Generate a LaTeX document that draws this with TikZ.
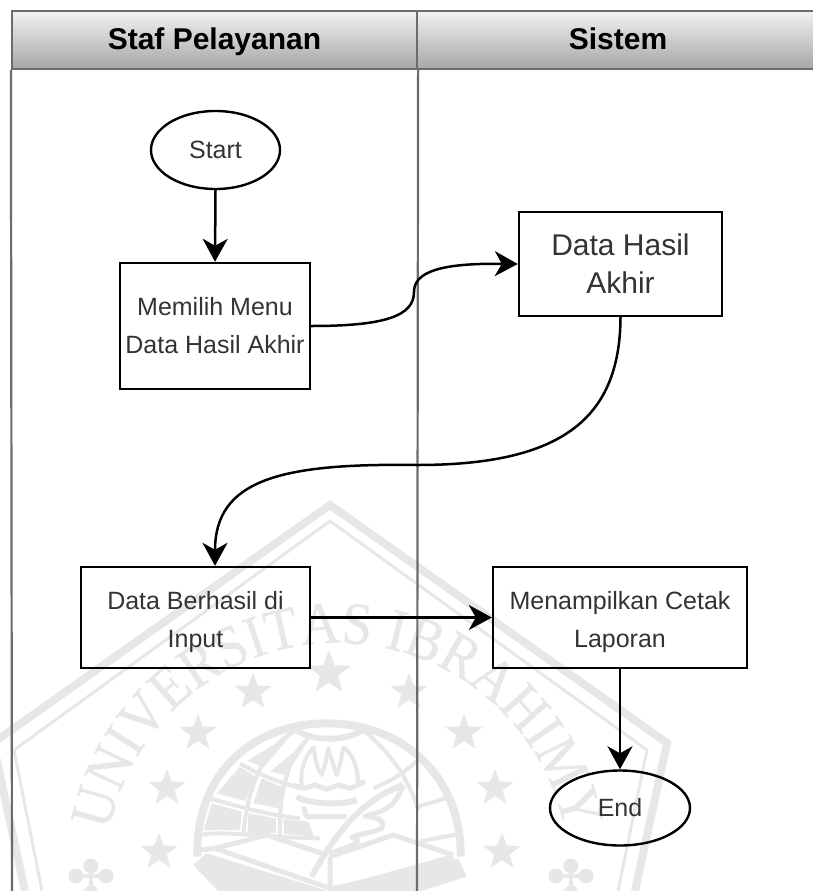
\documentclass[tikz,border=0pt]{standalone}
\usepackage{fontspec}
\setmainfont{Liberation Sans}
\newfontfamily\wmserif[FakeStretch=0.9,FakeBold=0.6]{Liberation Serif}
\usetikzlibrary{arrows.meta,shapes.geometric,decorations.text}
\definecolor{wm}{HTML}{E7E7E7}
\definecolor{lane}{HTML}{6B6B6B}
\definecolor{txt}{HTML}{333333}
\tikzset{
  x=1pt,y=-1pt,
  lanehead/.style={draw=lane,line width=2.2pt,minimum height=58pt,inner sep=0pt,
    text height=24pt,text depth=4pt,
    top color=HeadTop,bottom color=HeadBot,font=\fontsize{30}{30}\selectfont\bfseries,text=black},
  procbox/.style={draw=black,line width=2.4pt,align=center,inner sep=0pt,text=txt,
    font=\fontsize{25}{38}\selectfont},
  term/.style={draw=black,line width=2.4pt,ellipse,inner sep=0pt,text=txt,
    font=\fontsize{25}{30}\selectfont},
  flow/.style={draw=black,line width=2.5pt,-{Stealth[length=23pt,width=25pt,inset=7pt]}},
  wmstar/.style={star,star points=5,star point ratio=2.4,fill=wm,inner sep=0pt},
  wmline/.style={draw=wm,line width=2.2pt,line join=round},
  wmfill/.style={fill=wm,draw=none},
}
\definecolor{HeadTop}{HTML}{F2F2F2}
\definecolor{HeadBot}{HTML}{A6A6A6}
\begin{document}
\begin{tikzpicture}
\useasboundingbox (0,0) rectangle (812,891);
% --- watermark
\begin{scope}
\clip (0,0) rectangle (812,891);
\draw[draw=wm,line width=8pt,line join=miter] (25,891) -- (-7,743) -- (330,505) -- (667,743) -- (635,891);
\draw[draw=wm,line width=3pt,line join=miter] (42,891) -- (14,750) -- (330,521) -- (647,750) -- (618,891);
\foreach \i/\px/\py/\sz in {1/329/673/46,2/253/692/39,3/409/692/39,4/198/733/39,5/464/733/39,
    6/167/788/39,7/495/788/39,8/159/852/39,9/502/852/39}{
  \node[wmstar,minimum size=\sz pt] (star\i) at (\px,\py) {};
}
\foreach \i/\px in {1/91,2/571}{
  \fill[wm] (\px,866) circle[radius=7.5];
  \fill[wm] (\px-15,876) circle[radius=7.5];
  \fill[wm] (\px+15,876) circle[radius=7.5];
  \fill[wm] (\px,893) circle[radius=7.5];
  \draw[wm,line width=4pt] (\px,866) -- (\px,891) (\px-15,876) -- (\px+15,876);
}
\path[decorate,decoration={text along path,text align=center,text color=wm,
    text={|\wmserif\fontsize{60}{60}\selectfont|UNIVERSITAS IBRAHIMY}}]
  (337,875) ++(-176:232) arc[start angle=-176,end angle=-4,radius=232];
% globe
\begin{scope}[shift={(190,710)},scale=1/3]
  \draw[wmline,line width=8pt] (22,440) .. controls (15,200) and (180,40) .. (410,40) .. controls (640,40) and (815,200) .. (812,440);
  \draw[wmline,line width=6pt] (318,60) .. controls (370,95) and (460,95) .. (520,60);
  \draw[wmline,line width=4pt] (150,160) .. controls (230,210) and (320,230) .. (330,235);
  \draw[wmline,line width=4pt] (60,265) .. controls (130,285) and (230,315) .. (330,325);
  \draw[wmline,line width=4pt] (30,375) .. controls (100,360) and (250,385) .. (390,385);
  \draw[wmline,line width=4pt] (550,235) .. controls (600,215) and (640,190) .. (685,150);
  \draw[wmline,line width=4pt] (680,290) .. controls (720,280) and (750,270) .. (775,262);
  \draw[wmline,line width=4pt] (690,395) .. controls (730,385) and (770,380) .. (805,372);
  \draw[wmline,line width=4pt] (318,62) .. controls (220,110) and (170,240) .. (160,375);
  \draw[wmline,line width=4pt] (355,85) .. controls (290,140) and (265,270) .. (270,375);
  \draw[wmline,line width=4pt] (520,60) .. controls (590,120) and (650,190) .. (685,300);
  \fill[wmfill] (172,152) -- (305,72) -- (222,172) -- cycle;
  \fill[wmfill] (240,185) -- (355,90) -- (305,170) -- (285,195) -- cycle;
  \fill[wmfill] (80,250) -- (150,170) -- (195,200) -- (165,272) -- cycle;
  \fill[wmfill] (190,280) -- (215,205) -- (285,235) -- (265,295) -- cycle;
  \fill[wmfill] (42,360) -- (65,280) -- (155,305) -- (150,360) -- cycle;
  \fill[wmfill] (172,375) -- (175,310) -- (258,325) -- (258,368) -- cycle;
  \fill[wmfill] (282,372) -- (280,328) -- (355,335) -- (372,380) -- cycle;
  % torch
  \draw[wmline,line width=4pt] (335,225) .. controls (330,170) and (350,130) .. (372,112) .. controls (375,160) and (385,180) .. (395,195) .. controls (405,170) and (410,140) .. (415,115) .. controls (425,150) and (435,180) .. (440,195) .. controls (450,170) and (455,140) .. (460,112) .. controls (490,130) and (505,180) .. (505,225);
  \draw[wmline,line width=5pt] (310,225) -- (345,235) -- (375,225) -- (410,238) -- (445,225) -- (480,235) -- (525,215);
  \draw[wmline,line width=6pt] (320,260) .. controls (360,285) and (460,285) .. (500,270);
  \draw[wmline,line width=5pt] (340,290) -- (350,320) -- (470,320);
  % feather
  \draw[wmline,line width=6pt] (365,500) .. controls (430,380) and (510,270) .. (640,225);
  \draw[wmline,line width=5pt] (640,225) .. controls (620,270) and (610,300) .. (525,318) .. controls (570,325) and (585,330) .. (575,355) .. controls (545,370) and (510,370) .. (485,382) .. controls (510,390) and (525,395) .. (420,430);
  % book
  \draw[wmline,line width=5pt] (30,420) -- (75,415) -- (230,375) -- (395,430);
  \draw[wmline,line width=5pt] (75,415) -- (420,535);
  \draw[wmline,line width=5pt] (420,440) -- (610,375) -- (790,435);
  \draw[wmline,line width=5pt] (420,440) -- (420,543) -- (790,440);
  \fill[wmfill] (10,465) -- (50,430) -- (420,545) -- (420,560) -- (100,560) -- cycle;
  \fill[wmfill] (420,530) -- (805,445) -- (830,500) -- (640,560) -- (420,560) -- cycle;
\end{scope}
\end{scope}
% --- swimlanes
\node[lanehead,minimum width=405pt] (staf) at (214.5,40) {Staf Pelayanan};
\node[lanehead,minimum width=402pt] (sistem) at (618,40) {Sistem};
\coordinate (lb) at (12,895);
\coordinate (db) at (417,895);
\draw[lane,line width=2.2pt] (staf.south west) -- (lb);
\draw[lane,line width=2.2pt] (staf.south east) -- (db);
% --- nodes
\node[term,minimum width=129pt,minimum height=78pt] (start) at (215.5,150) {Start};
\node[procbox,minimum width=190pt,minimum height=126pt] (memilih) at (215,326) {Memilih Menu\\Data Hasil Akhir};
\node[procbox,minimum width=203pt,minimum height=104pt,font=\fontsize{30}{38}\selectfont] (hasil) at (620.5,264) {Data Hasil\\Akhir};
\node[procbox,minimum width=229pt,minimum height=101pt] (berhasil) at (195.5,617.5) {\rule{0pt}{28pt}Data Berhasil di\\Input};
\node[procbox,minimum width=254pt,minimum height=101pt] (tampil) at (620,617.5) {\rule{0pt}{28pt}Menampilkan Cetak\\Laporan};
\node[term,minimum width=140pt,minimum height=75pt] (end) at (620,808) {End};
% --- connectors
\draw[flow] (start.south) -- (memilih.north);
\coordinate (m1) at (414,292);
\draw[flow] (memilih.east) .. controls (385,326) and (414,316) .. (m1) .. controls (414,272) and (440,263) .. (hasil.west);
\coordinate (m2) at (417,465);
\draw[flow] (hasil.south) .. controls (620,420) and (560,465) .. (m2) .. controls (280,463) and (215,480) .. (berhasil.north -| memilih.north);
\draw[flow] (berhasil.east) -- (tampil.west);
\draw[flow] (tampil.south) -- (end.north);
\end{tikzpicture}
\end{document}
